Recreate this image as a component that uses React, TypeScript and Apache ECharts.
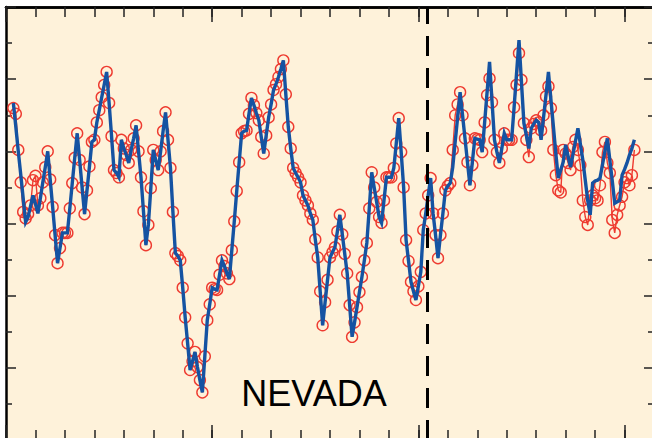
import { useEffect, useRef } from 'react';
import * as echarts from 'echarts';

// Monthly series; the first value falls in month 3 of year 0 on the time axis.
const START_MONTH = 3;
// Year at which the record is split (dashed marker).
const BREAK_YEAR = 14.3;
const STATE_NAME = 'NEVADA';

// Time axis (years) and value axis extents.
const X_MIN = 0;
const X_MAX = 22;
const X_MINOR_STEP = 1;
const X_MAJOR_STEP = 7;
const Y_MIN = 0;
const Y_MAX = 60;
const Y_STEP = 10;

// Recorded monthly values (red rings).
const observed = [
  46.0, 45.2, 40.2, 35.7, 31.6, 30.7, 31.3, 32.5, 36.0, 36.6,
  32.5, 33.5, 35.7, 37.8, 40.0, 36.1, 32.3, 28.4, 24.5, 26.6,
  28.7, 28.7, 28.7, 32.1, 35.6, 39.1, 42.5, 38.8, 35.0, 31.3,
  34.6, 37.9, 41.3, 41.6, 44.0, 45.7, 47.5, 49.2, 51.0, 46.7,
  42.1, 37.4, 37.0, 36.4, 41.6, 40.4, 39.5, 38.4, 40.2, 41.8,
  43.6, 40.0, 36.4, 31.7, 27.0, 29.8, 34.9, 40.2, 38.8, 37.4,
  40.0, 42.8, 45.4, 41.6, 37.7, 31.6, 25.9, 25.5, 24.9, 21.1,
  17.0, 13.4, 9.7, 10.9, 12.2, 10.1, 8.3, 6.6, 11.6, 16.6,
  18.8, 21.1, 20.9, 20.8, 22.9, 24.9, 24.1, 23.1, 22.3, 26.3,
  30.3, 34.5, 38.5, 42.5, 42.8, 42.9, 45.2, 47.4, 46.4, 45.3,
  44.3, 42.0, 39.7, 42.2, 44.7, 46.5, 48.5, 49.3, 50.3, 51.4,
  52.6, 47.9, 43.4, 40.4, 37.7, 37.0, 36.4, 35.7, 33.9, 33.2,
  32.5, 31.4, 30.5, 27.8, 25.3, 20.6, 15.9, 19.1, 22.2, 25.3,
  26.0, 26.7, 28.9, 31.2, 28.5, 25.8, 23.1, 18.7, 14.3, 16.3,
  18.4, 20.5, 22.6, 24.9, 27.3, 32.1, 37.1, 35.0, 33.0, 30.9,
  30.1, 33.2, 36.4, 36.4, 36.4, 37.7, 41.1, 44.6, 39.9, 35.0,
  27.7, 24.8, 21.9, 20.6, 19.4, 21.3, 23.3, 29.1, 31.4, 33.9,
  36.3, 31.4, 28.4, 25.2, 28.4, 31.4, 34.6, 35.2, 35.6, 40.2,
  45.0, 46.5, 48.2, 45.0, 41.8, 38.5, 35.3, 38.1, 41.8, 41.7,
  41.6, 39.9, 44.0, 47.8, 50.1, 46.8, 41.6, 39.9, 38.4, 40.4,
  42.5, 41.6, 41.6, 41.6, 46.1, 49.2, 53.6, 49.9, 43.9, 41.6,
  39.2, 43.2, 43.8, 44.3, 44.0, 42.9, 45.0, 47.6, 49.0, 46.0,
  40.2, 36.7, 34.6, 34.3, 40.2, 39.7, 38.4, 37.4, 40.6, 41.6,
  40.2, 38.1, 33.2, 30.9, 29.8, 33.2, 33.9, 33.5, 33.2, 35.3,
  39.9, 41.3, 38.4, 37.0, 30.5, 28.7, 31.2, 32.5, 33.7, 35.7,
  36.3, 35.3, 36.7, 40.2,
];

// Reconstructed monthly values (blue line).
const reconstructed = [
  46.7, 43.4, 40.0, 36.8, 33.5, 30.2, 30.9, 32.4, 33.9, 32.7,
  31.4, 33.5, 35.7, 37.8, 40.0, 36.1, 32.3, 28.4, 24.5, 26.6,
  28.7, 28.7, 28.7, 32.1, 35.6, 39.1, 42.5, 38.8, 35.0, 31.3,
  34.6, 37.9, 41.3, 41.6, 44.0, 45.7, 47.5, 49.2, 51.0, 46.7,
  42.1, 37.4, 37.0, 36.4, 41.6, 40.4, 39.5, 38.4, 40.2, 41.8,
  43.6, 40.0, 36.4, 31.7, 27.0, 29.8, 34.9, 40.2, 38.8, 37.4,
  40.0, 42.8, 45.4, 41.6, 37.7, 31.6, 25.9, 25.5, 24.9, 21.1,
  17.0, 13.4, 9.7, 10.9, 12.2, 10.1, 8.3, 6.6, 11.6, 16.6,
  18.8, 21.1, 20.9, 20.8, 22.9, 24.9, 24.1, 23.1, 22.3, 26.3,
  30.3, 34.5, 38.5, 42.5, 42.8, 42.9, 45.2, 47.4, 46.4, 45.3,
  44.3, 42.0, 39.7, 42.2, 44.7, 46.5, 48.5, 49.3, 50.3, 51.4,
  52.6, 47.9, 43.4, 40.4, 37.7, 37.0, 36.4, 35.7, 33.9, 33.2,
  32.5, 31.4, 30.5, 27.8, 25.3, 20.6, 15.9, 19.1, 22.2, 25.3,
  26.0, 26.7, 28.9, 31.2, 28.5, 25.8, 23.1, 18.7, 14.3, 16.3,
  18.4, 20.5, 22.6, 24.9, 27.3, 32.1, 37.1, 35.0, 33.0, 30.9,
  30.1, 33.2, 36.4, 36.4, 36.4, 37.7, 41.1, 44.6, 39.9, 35.0,
  27.7, 24.8, 21.9, 20.6, 19.4, 21.3, 23.3, 29.1, 31.4, 33.9,
  36.3, 31.4, 28.4, 25.2, 28.4, 31.4, 34.6, 35.2, 35.6, 37.8,
  41.3, 44.7, 48.2, 45.0, 41.8, 38.5, 35.3, 38.5, 41.8, 41.7,
  41.6, 39.9, 44.0, 48.2, 52.4, 47.0, 41.6, 39.9, 38.4, 40.4,
  42.5, 41.6, 41.6, 41.6, 46.1, 50.8, 55.4, 49.6, 43.9, 42.2,
  40.4, 43.2, 43.8, 44.3, 44.0, 41.6, 44.7, 47.8, 51.0, 47.2,
  43.5, 39.7, 36.3, 37.4, 38.5, 40.9, 39.3, 37.8, 39.6, 41.4,
  43.2, 41.0, 38.8, 36.0, 33.2, 31.2, 35.6, 35.9, 36.0, 36.3,
  38.1, 40.0, 41.8, 38.8, 35.9, 32.8, 33.0, 33.2, 36.7, 37.5,
  38.4, 39.5, 40.4, 41.6,
];

const RED = '#EE3B30';
const BLUE = '#1553A2';
const FRAME = '#000000';
const TICK = '#222222';

const toPoints = (values: number[]) =>
  values.map((v, i) => [(i + START_MONTH) / 12, v]);

const frameLine = {
  show: true,
  onZero: false,
  lineStyle: { color: FRAME, width: 2.5 },
};

const hidden = {
  axisLabel: { show: false },
  splitLine: { show: false },
};

const xAxisAt = (position: 'top' | 'bottom', step: number, length: number) => ({
  type: 'value',
  position,
  min: X_MIN,
  max: X_MAX,
  interval: step,
  axisLine: frameLine,
  axisTick: { show: true, inside: true, length, lineStyle: { color: TICK, width: 1.5 } },
  ...hidden,
});

const yAxisAt = (position: 'left' | 'right') => ({
  type: 'value',
  position,
  min: Y_MIN,
  max: Y_MAX,
  interval: Y_STEP,
  axisLine: frameLine,
  axisTick: { show: true, inside: true, length: 10, lineStyle: { color: TICK, width: 1.5 } },
  minorTick: { show: true, splitNumber: 2, length: 6, lineStyle: { color: TICK, width: 1.5 } },
  minorSplitLine: { show: false },
  ...hidden,
});

export default function App() {
  const ref = useRef<HTMLDivElement>(null);

  useEffect(() => {
    if (!ref.current) return;
    const chart = echarts.init(ref.current, null, { renderer: 'svg' });
    chart.setOption({
      animation: false,
      backgroundColor: '#ffffff',
      grid: {
        left: 6,
        top: 7,
        right: 6,
        bottom: 6,
        show: true,
        backgroundColor: '#FEF2DA',
        borderWidth: 0,
      },
      xAxis: [
        xAxisAt('bottom', X_MINOR_STEP, 10),
        xAxisAt('bottom', X_MAJOR_STEP, 15),
        xAxisAt('top', X_MINOR_STEP, 10),
        xAxisAt('top', X_MAJOR_STEP, 15),
      ],
      yAxis: [yAxisAt('left'), yAxisAt('right')],
      series: [
        {
          type: 'line',
          xAxisIndex: 0,
          yAxisIndex: 0,
          data: toPoints(observed),
          symbol: 'circle',
          symbolSize: 11,
          showAllSymbol: true,
          lineStyle: { color: RED, width: 1.4 },
          itemStyle: { color: 'rgba(0,0,0,0)', borderColor: RED, borderWidth: 1.4 },
          emphasis: { disabled: true },
          z: 2,
        },
        {
          type: 'line',
          xAxisIndex: 0,
          yAxisIndex: 0,
          data: toPoints(reconstructed),
          symbol: 'none',
          lineStyle: { color: BLUE, width: 3.4, join: 'miter', miterLimit: 10 },
          emphasis: { disabled: true },
          z: 3,
          markLine: {
            silent: true,
            symbol: 'none',
            label: { show: false },
            lineStyle: { color: '#000', width: 3, type: [20, 12] },
            data: [{ xAxis: BREAK_YEAR }],
          },
        },
      ],
      graphic: [
        {
          type: 'text',
          x: 314,
          y: 393,
          z: 10,
          style: {
            text: STATE_NAME,
            fill: '#000',
            fontSize: 36,
            fontFamily: '"Liberation Sans", Arial, sans-serif',
            align: 'center',
            verticalAlign: 'middle',
          },
        },
      ],
    });
    return () => chart.dispose();
  }, []);

  return (
    <div
      style={{
        position: 'fixed',
        left: 0,
        top: 0,
        width: 652,
        height: 438,
        overflow: 'hidden',
        background: '#ffffff',
      }}
    >
      <div ref={ref} style={{ position: 'absolute', left: 0, top: 0, width: 660, height: 446 }} />
    </div>
  );
}
